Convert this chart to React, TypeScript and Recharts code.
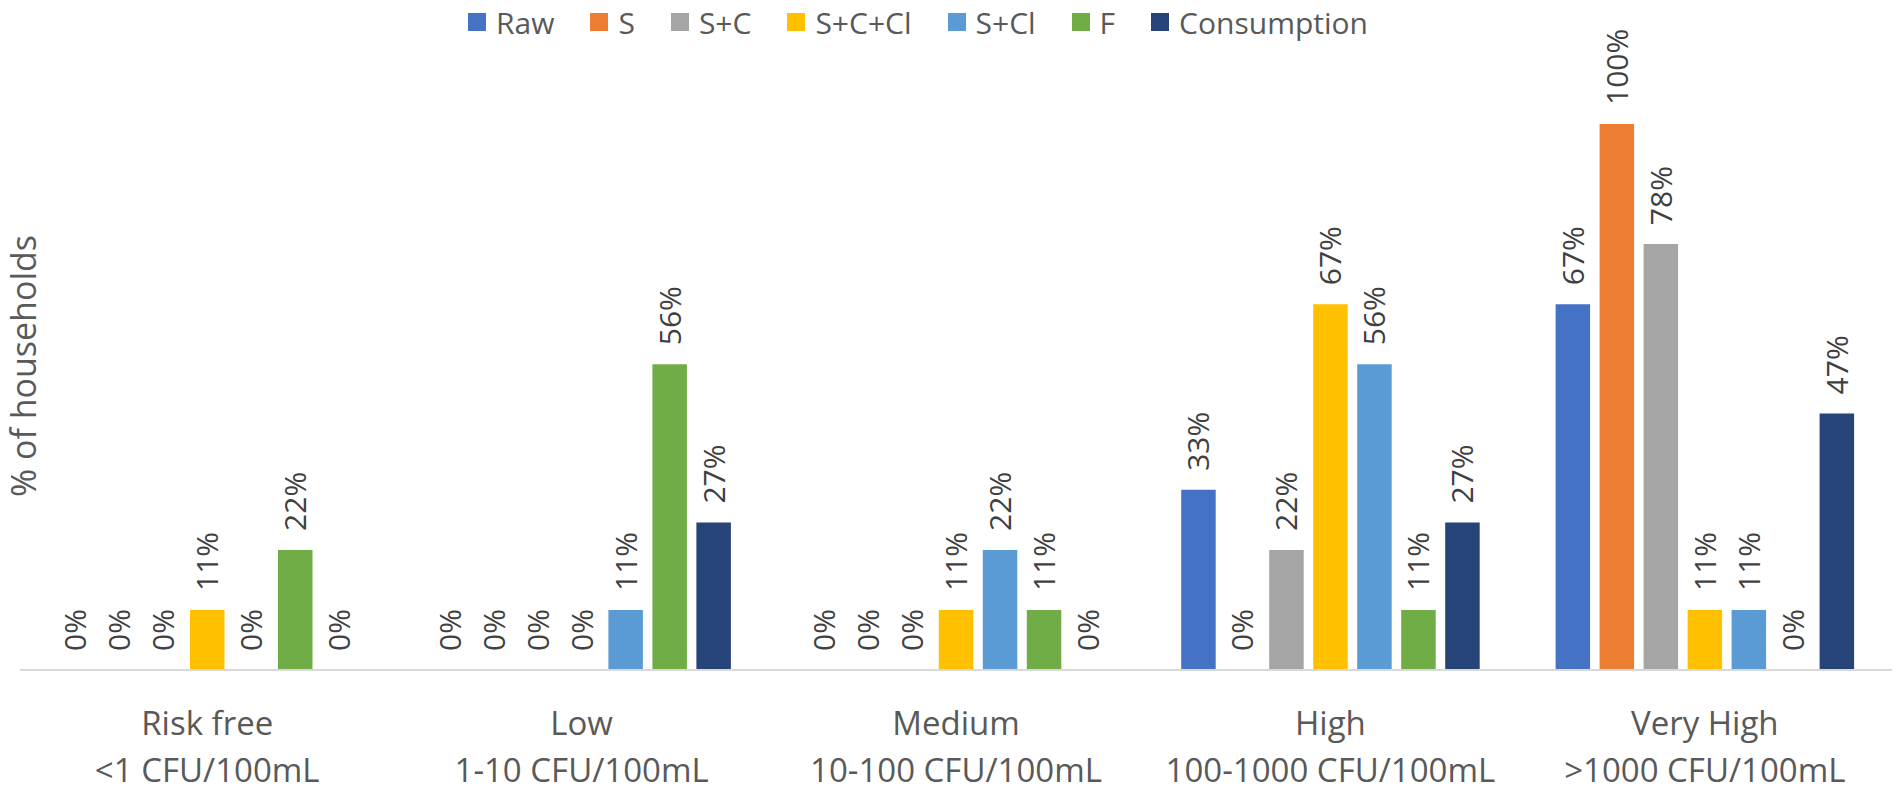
import React from 'react';
import {BarChart, Bar, XAxis, YAxis, Legend, LabelList} from 'recharts';

const categories = ['Risk free', 'Low', 'Medium', 'High', 'Very High'];
const ranges = ['<1 CFU/100mL', '1-10 CFU/100mL', '10-100 CFU/100mL', '100-1000 CFU/100mL', '>1000 CFU/100mL'];

const raw = [0, 0, 0, 33, 67];
const s = [0, 0, 0, 0, 100];
const sc = [0, 0, 0, 22, 78];
const scCl = [11, 0, 11, 67, 11];
const sCl = [0, 11, 22, 56, 11];
const f = [22, 56, 11, 11, 0];
const consumption = [0, 27, 0, 27, 47];

const series = [
    {key: 'Raw', values: raw, color: '#4472C4'},
    {key: 'S', values: s, color: '#ED7D31'},
    {key: 'S+C', values: sc, color: '#A5A5A5'},
    {key: 'S+C+Cl', values: scCl, color: '#FFC000'},
    {key: 'S+Cl', values: sCl, color: '#5B9BD5'},
    {key: 'F', values: f, color: '#70AD47'},
    {key: 'Consumption', values: consumption, color: '#264478'},
];

const data = categories.map((name, i) => {
    const row: any = {name, range: ranges[i]};
    series.forEach(sr => {
        row[sr.key] = sr.values[i];
    });
    return row;
});

const FONT = '"Open Sans", sans-serif';

const CategoryTick = (props: any) => {
    const {x, y, payload} = props;
    const i = payload.index;
    return (
        <g>
            <text x={x} y={y + 65} textAnchor="middle" fill="#595959" fontSize={33} fontFamily={FONT}>
                {categories[i]}
            </text>
            <text x={x} y={y + 112} textAnchor="middle" fill="#595959" fontSize={33} fontFamily={FONT}>
                {ranges[i]}
            </text>
        </g>
    );
};

const ValueLabel = (props: any) => {
    const {x, y, width, value} = props;
    const cx = x + width / 2 + 11;
    const ty = y - 19;
    return (
        <text
            x={cx}
            y={ty}
            transform={`rotate(-90 ${cx} ${ty})`}
            textAnchor="start"
            fill="#404040"
            fontSize={30}
            fontFamily={FONT}
        >
            {`${value}%`}
        </text>
    );
};

// legend drawn in series order (recharts sorts the payload by name)
const renderLegend = () => (
    <div style={{display: 'flex', justifyContent: 'center', alignItems: 'center', height: 36, gap: 36}}>
        {series.map(sr => (
            <div key={sr.key} style={{display: 'flex', alignItems: 'center'}}>
                <div style={{width: 18, height: 18, background: sr.color, marginRight: 10}}/>
                <span style={{fontSize: 30, color: '#595959', fontFamily: FONT, whiteSpace: 'nowrap'}}>{sr.key}</span>
            </div>
        ))}
    </div>
);

const YLabel = () => (
    <text
        x={36}
        y={366}
        transform="rotate(-90 36 366)"
        textAnchor="middle"
        fill="#595959"
        fontSize={34}
        fontFamily={FONT}
    >
        % of households
    </text>
);

const App = () => {
    return (
        <div style={{position: 'absolute', top: 0, left: 0, background: '#fff'}}>
            <BarChart
                width={1902}
                height={801}
                data={data}
                margin={{top: 124, right: 10, bottom: 0, left: 0}}
                barSize={34.5}
                barGap={9.5}
            >
                <XAxis
                    dataKey="name"
                    height={131}
                    tickLine={false}
                    tickSize={0}
                    tickMargin={0}
                    axisLine={{stroke: '#d9d9d9', strokeWidth: 2}}
                    tick={<CategoryTick/>}
                    interval={0}
                />
                <YAxis
                    width={20}
                    domain={[0, 100]}
                    tick={false}
                    axisLine={false}
                    tickLine={false}
                    label={<YLabel/>}
                />
                <Legend
                    layout="vertical"
                    verticalAlign="middle"
                    align="center"
                    content={renderLegend}
                    wrapperStyle={{top: 4, left: 0, width: 1836}}
                />
                {series.map(sr => (
                    <Bar
                        key={sr.key}
                        dataKey={sr.key}
                        fill={sr.color}
                        minPointSize={0.01}
                        isAnimationActive={false}
                    >
                        <LabelList dataKey={sr.key} content={<ValueLabel/>}/>
                    </Bar>
                ))}
            </BarChart>
        </div>
    );
};

export default App;
